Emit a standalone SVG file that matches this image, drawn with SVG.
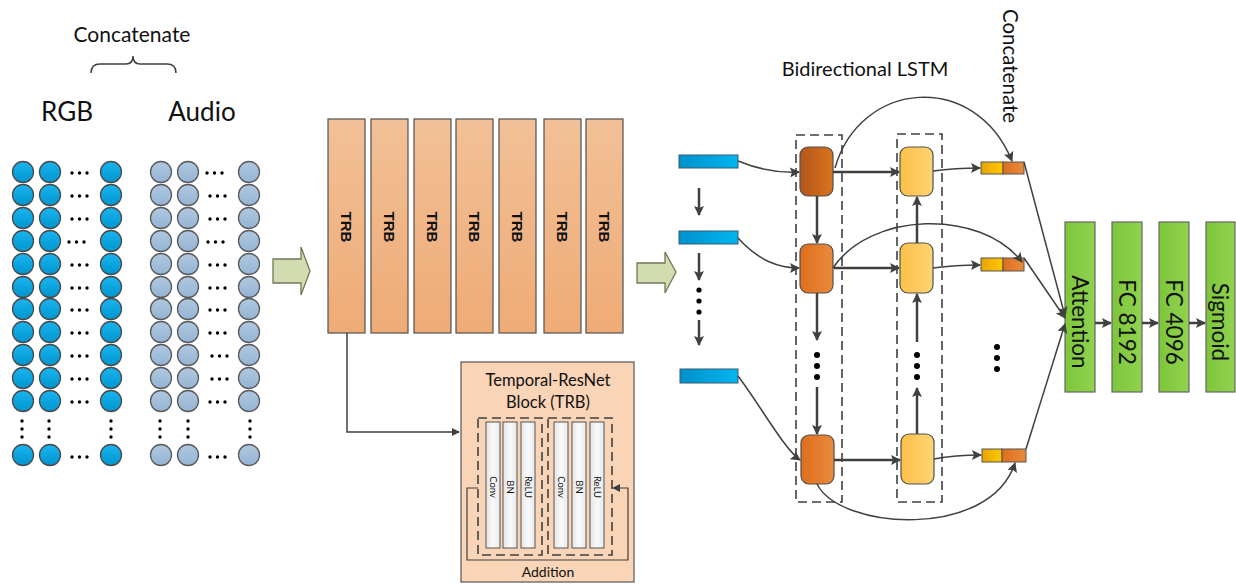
<svg xmlns="http://www.w3.org/2000/svg" width="1236" height="585" viewBox="0 0 1236 585">
<defs>
<linearGradient id="gBlue" x1="0" y1="0" x2="0" y2="1"><stop offset="0" stop-color="#1ab4ee"/><stop offset="1" stop-color="#0096d0"/></linearGradient>
<linearGradient id="gAud" x1="0" y1="0" x2="0" y2="1"><stop offset="0" stop-color="#b0c8e0"/><stop offset="1" stop-color="#94b4d4"/></linearGradient>
<linearGradient id="gTRB" x1="0" y1="0" x2="0" y2="1"><stop offset="0" stop-color="#f2c097"/><stop offset="1" stop-color="#eeab76"/></linearGradient>
<linearGradient id="gBar" x1="0" y1="0" x2="1" y2="0"><stop offset="0" stop-color="#0090cc"/><stop offset="1" stop-color="#00b6f0"/></linearGradient>
<linearGradient id="gF1" x1="0" y1="0" x2="1" y2="0"><stop offset="0" stop-color="#b4561a"/><stop offset="1" stop-color="#d8731f"/></linearGradient>
<linearGradient id="gF2" x1="0" y1="0" x2="1" y2="0"><stop offset="0" stop-color="#df6e1c"/><stop offset="1" stop-color="#ea8a3c"/></linearGradient>
<linearGradient id="gB" x1="0" y1="0" x2="1" y2="0"><stop offset="0" stop-color="#fcc048"/><stop offset="1" stop-color="#fed474"/></linearGradient>
<linearGradient id="gCY" x1="0" y1="0" x2="1" y2="0"><stop offset="0" stop-color="#e6a400"/><stop offset="1" stop-color="#ffc800"/></linearGradient>
<linearGradient id="gCO" x1="0" y1="0" x2="1" y2="0"><stop offset="0" stop-color="#dc6e1e"/><stop offset="1" stop-color="#ea8a3c"/></linearGradient>
<linearGradient id="gG" x1="0" y1="0" x2="1" y2="0"><stop offset="0" stop-color="#7cc63a"/><stop offset="1" stop-color="#92d250"/></linearGradient>
<linearGradient id="gW" x1="0" y1="0" x2="1" y2="0"><stop offset="0" stop-color="#e4e4e4"/><stop offset="0.5" stop-color="#fafafa"/><stop offset="1" stop-color="#e8e8e8"/></linearGradient>
<marker id="ah" viewBox="0 0 10 10" refX="9" refY="5" markerWidth="11" markerHeight="10" markerUnits="userSpaceOnUse" orient="auto"><path d="M0,0 L10,5 L0,10 L2,5 Z" fill="#404040"/></marker>
<marker id="ahs" viewBox="0 0 10 10" refX="9" refY="5" markerWidth="8" markerHeight="8" markerUnits="userSpaceOnUse" orient="auto"><path d="M0,0 L10,5 L0,10 Z" fill="#404040"/></marker>
</defs>
<style>
text{font-family:Lato,"Liberation Sans",sans-serif;fill:#111}
.rgb{fill:url(#gBlue);stroke:#4a4a4a;stroke-width:1.3}
.aud{fill:url(#gAud);stroke:#5a5a5a;stroke-width:1.3}
.dot{fill:#000}
.trb{fill:url(#gTRB);stroke:#505050;stroke-width:1.2}
.trbt{font-family:"Liberation Sans",sans-serif;font-weight:bold;font-size:15px}
.ln{fill:none;stroke:#404040;stroke-width:1.5}
.lnt{fill:none;stroke:#404040;stroke-width:2.5}
.dash{fill:none;stroke:#404040;stroke-width:1.6;stroke-dasharray:9,5}
.bar{fill:url(#gBar);stroke:#3a5a70;stroke-width:1}
.cell{stroke:#505050;stroke-width:1.2}
.green{fill:url(#gG);stroke:#666;stroke-width:1.2}
.garrow{fill:#d3dbb0;stroke:#6f7a58;stroke-width:1.3}
.inner{fill:url(#gW);stroke:#555;stroke-width:1}
.small{font-size:9.5px}
.gt{font-size:22.5px}
</style>

<g id="labels-left">
<text x="132" y="42" font-size="21" text-anchor="middle">Concatenate</text>
<path d="M91,73 Q91,64 100,64 H126 Q133,64 133,56 Q133,64 140,64 H167 Q176,64 176,73" class="ln"/>
<text x="67" y="121" font-size="26" text-anchor="middle">RGB</text>
<text x="202" y="121" font-size="26" text-anchor="middle">Audio</text>
</g>

<g id="rgb-input">
<g id="rgb-rows">
<circle class="rgb" cx="23" cy="172" r="10.5"/><circle class="rgb" cx="50" cy="172" r="10.5"/><circle class="rgb" cx="111" cy="172" r="10.5"/>
<circle class="rgb" cx="23" cy="195" r="10.5"/><circle class="rgb" cx="50" cy="195" r="10.5"/><circle class="rgb" cx="111" cy="195" r="10.5"/>
<circle class="rgb" cx="23" cy="218" r="10.5"/><circle class="rgb" cx="50" cy="218" r="10.5"/><circle class="rgb" cx="111" cy="218" r="10.5"/>
<circle class="rgb" cx="23" cy="241" r="10.5"/><circle class="rgb" cx="50" cy="241" r="10.5"/><circle class="rgb" cx="111" cy="241" r="10.5"/>
<circle class="rgb" cx="23" cy="264" r="10.5"/><circle class="rgb" cx="50" cy="264" r="10.5"/><circle class="rgb" cx="111" cy="264" r="10.5"/>
<circle class="rgb" cx="23" cy="287" r="10.5"/><circle class="rgb" cx="50" cy="287" r="10.5"/><circle class="rgb" cx="111" cy="287" r="10.5"/>
<circle class="rgb" cx="23" cy="309" r="10.5"/><circle class="rgb" cx="50" cy="309" r="10.5"/><circle class="rgb" cx="111" cy="309" r="10.5"/>
<circle class="rgb" cx="23" cy="332" r="10.5"/><circle class="rgb" cx="50" cy="332" r="10.5"/><circle class="rgb" cx="111" cy="332" r="10.5"/>
<circle class="rgb" cx="23" cy="355" r="10.5"/><circle class="rgb" cx="50" cy="355" r="10.5"/><circle class="rgb" cx="111" cy="355" r="10.5"/>
<circle class="rgb" cx="23" cy="378" r="10.5"/><circle class="rgb" cx="50" cy="378" r="10.5"/><circle class="rgb" cx="111" cy="378" r="10.5"/>
<circle class="rgb" cx="23" cy="401" r="10.5"/><circle class="rgb" cx="50" cy="401" r="10.5"/><circle class="rgb" cx="111" cy="401" r="10.5"/>
<circle class="rgb" cx="23" cy="455" r="10.5"/><circle class="rgb" cx="50" cy="455" r="10.5"/><circle class="rgb" cx="111" cy="455" r="10.5"/>
</g>
<g id="rgb-dots">
<circle class="dot" cx="72" cy="173" r="1.7"/><circle class="dot" cx="79.5" cy="173" r="1.7"/><circle class="dot" cx="87" cy="173" r="1.7"/>
<circle class="dot" cx="72" cy="196" r="1.7"/><circle class="dot" cx="79.5" cy="196" r="1.7"/><circle class="dot" cx="87" cy="196" r="1.7"/>
<circle class="dot" cx="72" cy="219" r="1.7"/><circle class="dot" cx="79.5" cy="219" r="1.7"/><circle class="dot" cx="87" cy="219" r="1.7"/>
<circle class="dot" cx="69" cy="242" r="1.7"/><circle class="dot" cx="76.5" cy="242" r="1.7"/><circle class="dot" cx="84" cy="242" r="1.7"/>
<circle class="dot" cx="72" cy="265" r="1.7"/><circle class="dot" cx="79.5" cy="265" r="1.7"/><circle class="dot" cx="87" cy="265" r="1.7"/>
<circle class="dot" cx="72" cy="288" r="1.7"/><circle class="dot" cx="79.5" cy="288" r="1.7"/><circle class="dot" cx="87" cy="288" r="1.7"/>
<circle class="dot" cx="72" cy="310" r="1.7"/><circle class="dot" cx="79.5" cy="310" r="1.7"/><circle class="dot" cx="87" cy="310" r="1.7"/>
<circle class="dot" cx="72" cy="333" r="1.7"/><circle class="dot" cx="79.5" cy="333" r="1.7"/><circle class="dot" cx="87" cy="333" r="1.7"/>
<circle class="dot" cx="72" cy="356" r="1.7"/><circle class="dot" cx="79.5" cy="356" r="1.7"/><circle class="dot" cx="87" cy="356" r="1.7"/>
<circle class="dot" cx="72" cy="379" r="1.7"/><circle class="dot" cx="79.5" cy="379" r="1.7"/><circle class="dot" cx="87" cy="379" r="1.7"/>
<circle class="dot" cx="72" cy="402" r="1.7"/><circle class="dot" cx="79.5" cy="402" r="1.7"/><circle class="dot" cx="87" cy="402" r="1.7"/>
<circle class="dot" cx="72" cy="457" r="1.7"/><circle class="dot" cx="79.5" cy="457" r="1.7"/><circle class="dot" cx="87" cy="457" r="1.7"/>
<circle class="dot" cx="22" cy="421" r="1.7"/><circle class="dot" cx="22" cy="429" r="1.7"/><circle class="dot" cx="22" cy="437" r="1.7"/>
<circle class="dot" cx="49" cy="421" r="1.7"/><circle class="dot" cx="49" cy="429" r="1.7"/><circle class="dot" cx="49" cy="437" r="1.7"/>
<circle class="dot" cx="111" cy="421" r="1.7"/><circle class="dot" cx="111" cy="429" r="1.7"/><circle class="dot" cx="111" cy="437" r="1.7"/>
</g>
</g>

<g id="audio-input">
<g id="audio-rows">
<circle class="aud" cx="161" cy="172" r="10.5"/><circle class="aud" cx="188" cy="172" r="10.5"/><circle class="aud" cx="249" cy="172" r="10.5"/>
<circle class="aud" cx="161" cy="195" r="10.5"/><circle class="aud" cx="188" cy="195" r="10.5"/><circle class="aud" cx="249" cy="195" r="10.5"/>
<circle class="aud" cx="161" cy="218" r="10.5"/><circle class="aud" cx="188" cy="218" r="10.5"/><circle class="aud" cx="249" cy="218" r="10.5"/>
<circle class="aud" cx="161" cy="241" r="10.5"/><circle class="aud" cx="188" cy="241" r="10.5"/><circle class="aud" cx="249" cy="241" r="10.5"/>
<circle class="aud" cx="161" cy="264" r="10.5"/><circle class="aud" cx="188" cy="264" r="10.5"/><circle class="aud" cx="249" cy="264" r="10.5"/>
<circle class="aud" cx="161" cy="287" r="10.5"/><circle class="aud" cx="188" cy="287" r="10.5"/><circle class="aud" cx="249" cy="287" r="10.5"/>
<circle class="aud" cx="161" cy="309" r="10.5"/><circle class="aud" cx="188" cy="309" r="10.5"/><circle class="aud" cx="249" cy="309" r="10.5"/>
<circle class="aud" cx="161" cy="332" r="10.5"/><circle class="aud" cx="188" cy="332" r="10.5"/><circle class="aud" cx="249" cy="332" r="10.5"/>
<circle class="aud" cx="161" cy="355" r="10.5"/><circle class="aud" cx="188" cy="355" r="10.5"/><circle class="aud" cx="249" cy="355" r="10.5"/>
<circle class="aud" cx="161" cy="378" r="10.5"/><circle class="aud" cx="188" cy="378" r="10.5"/><circle class="aud" cx="249" cy="378" r="10.5"/>
<circle class="aud" cx="161" cy="401" r="10.5"/><circle class="aud" cx="188" cy="401" r="10.5"/><circle class="aud" cx="249" cy="401" r="10.5"/>
<circle class="aud" cx="161" cy="455" r="10.5"/><circle class="aud" cx="188" cy="455" r="10.5"/><circle class="aud" cx="249" cy="455" r="10.5"/>
</g>
<g id="audio-dots">
<circle class="dot" cx="207" cy="173" r="1.7"/><circle class="dot" cx="214.5" cy="173" r="1.7"/><circle class="dot" cx="222" cy="173" r="1.7"/>
<circle class="dot" cx="210" cy="196" r="1.7"/><circle class="dot" cx="217.5" cy="196" r="1.7"/><circle class="dot" cx="225" cy="196" r="1.7"/>
<circle class="dot" cx="210" cy="219" r="1.7"/><circle class="dot" cx="217.5" cy="219" r="1.7"/><circle class="dot" cx="225" cy="219" r="1.7"/>
<circle class="dot" cx="208" cy="242" r="1.7"/><circle class="dot" cx="215.5" cy="242" r="1.7"/><circle class="dot" cx="223" cy="242" r="1.7"/>
<circle class="dot" cx="210" cy="265" r="1.7"/><circle class="dot" cx="217.5" cy="265" r="1.7"/><circle class="dot" cx="225" cy="265" r="1.7"/>
<circle class="dot" cx="210" cy="288" r="1.7"/><circle class="dot" cx="217.5" cy="288" r="1.7"/><circle class="dot" cx="225" cy="288" r="1.7"/>
<circle class="dot" cx="210" cy="310" r="1.7"/><circle class="dot" cx="217.5" cy="310" r="1.7"/><circle class="dot" cx="225" cy="310" r="1.7"/>
<circle class="dot" cx="210" cy="333" r="1.7"/><circle class="dot" cx="217.5" cy="333" r="1.7"/><circle class="dot" cx="225" cy="333" r="1.7"/>
<circle class="dot" cx="212" cy="356" r="1.7"/><circle class="dot" cx="219.5" cy="356" r="1.7"/><circle class="dot" cx="227" cy="356" r="1.7"/>
<circle class="dot" cx="212" cy="379" r="1.7"/><circle class="dot" cx="219.5" cy="379" r="1.7"/><circle class="dot" cx="227" cy="379" r="1.7"/>
<circle class="dot" cx="210" cy="402" r="1.7"/><circle class="dot" cx="217.5" cy="402" r="1.7"/><circle class="dot" cx="225" cy="402" r="1.7"/>
<circle class="dot" cx="210" cy="457" r="1.7"/><circle class="dot" cx="217.5" cy="457" r="1.7"/><circle class="dot" cx="225" cy="457" r="1.7"/>
<circle class="dot" cx="160" cy="421" r="1.7"/><circle class="dot" cx="160" cy="429" r="1.7"/><circle class="dot" cx="160" cy="437" r="1.7"/>
<circle class="dot" cx="188" cy="421" r="1.7"/><circle class="dot" cx="188" cy="429" r="1.7"/><circle class="dot" cx="188" cy="437" r="1.7"/>
<circle class="dot" cx="250" cy="421" r="1.7"/><circle class="dot" cx="250" cy="429" r="1.7"/><circle class="dot" cx="250" cy="437" r="1.7"/>
</g>
</g>

<g id="arrow-in">
<path class="garrow" d="M273,259 H301 V247 L310,271 L301,295 V283 H273 Z"/>
</g>

<g id="trb-stack">
<rect class="trb" x="328" y="119" width="37" height="214"/>
<rect class="trb" x="371" y="119" width="37" height="214"/>
<rect class="trb" x="414" y="119" width="37" height="214"/>
<rect class="trb" x="456" y="119" width="37" height="214"/>
<rect class="trb" x="499" y="119" width="37" height="214"/>
<rect class="trb" x="544" y="119" width="37" height="214"/>
<rect class="trb" x="586" y="119" width="37" height="214"/>
<text class="trbt" transform="rotate(90 346.5 227)" x="346.5" y="227" text-anchor="middle" dominant-baseline="central">TRB</text>
<text class="trbt" transform="rotate(90 389.5 227)" x="389.5" y="227" text-anchor="middle" dominant-baseline="central">TRB</text>
<text class="trbt" transform="rotate(90 432.5 227)" x="432.5" y="227" text-anchor="middle" dominant-baseline="central">TRB</text>
<text class="trbt" transform="rotate(90 474.5 227)" x="474.5" y="227" text-anchor="middle" dominant-baseline="central">TRB</text>
<text class="trbt" transform="rotate(90 517.5 227)" x="517.5" y="227" text-anchor="middle" dominant-baseline="central">TRB</text>
<text class="trbt" transform="rotate(90 562.5 227)" x="562.5" y="227" text-anchor="middle" dominant-baseline="central">TRB</text>
<text class="trbt" transform="rotate(90 604.5 227)" x="604.5" y="227" text-anchor="middle" dominant-baseline="central">TRB</text>
</g>

<g id="trb-detail">
<rect x="461" y="362" width="173" height="220" fill="#f9d4b6" stroke="#555" stroke-width="1.2"/>
<text x="548" y="386" font-size="16.5" text-anchor="middle">Temporal-ResNet</text>
<text x="548" y="408" font-size="16.5" text-anchor="middle">Block (TRB)</text>
<rect class="dash" x="478" y="418" width="64" height="137" stroke-width="1.2" stroke-dasharray="6,4"/>
<rect class="dash" x="548" y="418" width="64" height="137" stroke-width="1.2" stroke-dasharray="6,4"/>
<rect class="inner" x="486" y="422" width="14" height="126"/>
<rect class="inner" x="503" y="422" width="14" height="126"/>
<rect class="inner" x="521" y="422" width="14" height="126"/>
<rect class="inner" x="554" y="422" width="14" height="126"/>
<rect class="inner" x="572" y="422" width="14" height="126"/>
<rect class="inner" x="590" y="422" width="14" height="126"/>
<text class="small" transform="rotate(90 493 487)" x="493" y="487" text-anchor="middle" dominant-baseline="central">Conv</text>
<text class="small" transform="rotate(90 510 487)" x="510" y="487" text-anchor="middle" dominant-baseline="central">BN</text>
<text class="small" transform="rotate(90 528 487)" x="528" y="487" text-anchor="middle" dominant-baseline="central">ReLU</text>
<text class="small" transform="rotate(90 561 487)" x="561" y="487" text-anchor="middle" dominant-baseline="central">Conv</text>
<text class="small" transform="rotate(90 579 487)" x="579" y="487" text-anchor="middle" dominant-baseline="central">BN</text>
<text class="small" transform="rotate(90 597 487)" x="597" y="487" text-anchor="middle" dominant-baseline="central">ReLU</text>
<path d="M478,488 H467 V560 H628 V488 H613" fill="none" stroke="#404040" stroke-width="1.2" marker-end="url(#ahs)"/>
<text x="548" y="577" font-size="14" text-anchor="middle">Addition</text>
</g>

<g id="arrow-mid">
<path class="garrow" d="M637,263 H665 V252 L676,272 L665,293 V283 H637 Z"/>
</g>

<g id="input-bars">
<rect class="bar" x="679" y="155" width="59" height="13"/>
<rect class="bar" x="679" y="231" width="59" height="13"/>
<rect class="bar" x="680" y="369" width="58" height="14"/>
<circle class="dot" cx="699" cy="290" r="2.6"/><circle class="dot" cx="699" cy="301" r="2.6"/><circle class="dot" cx="699" cy="312" r="2.6"/>
</g>

<g id="forward-lstm">
<rect class="dash" x="796" y="135" width="46" height="367"/>
<rect class="cell" x="800" y="147" width="33" height="49" rx="8" fill="url(#gF1)"/>
<rect class="cell" x="800" y="244" width="33" height="49" rx="8" fill="url(#gF2)"/>
<rect class="cell" x="801" y="435" width="33" height="49" rx="8" fill="url(#gF2)"/>
<circle class="dot" cx="817" cy="355" r="3"/><circle class="dot" cx="817" cy="366" r="3"/><circle class="dot" cx="817" cy="377" r="3"/>
</g>

<g id="backward-lstm">
<rect class="dash" x="897" y="134" width="45" height="368"/>
<rect class="cell" x="900" y="147" width="33" height="49" rx="8" fill="url(#gB)"/>
<rect class="cell" x="900" y="243" width="33" height="50" rx="8" fill="url(#gB)"/>
<rect class="cell" x="901" y="434" width="33" height="50" rx="8" fill="url(#gB)"/>
<circle class="dot" cx="917" cy="355" r="3"/><circle class="dot" cx="917" cy="366" r="3"/><circle class="dot" cx="917" cy="377" r="3"/>
</g>

<g id="concat-outputs">
<rect x="981" y="162" width="22" height="12" fill="url(#gCY)" stroke="#555" stroke-width="1"/>
<rect x="1003" y="162" width="21" height="12" fill="url(#gCO)" stroke="#555" stroke-width="1"/>
<rect x="981" y="258" width="22" height="13" fill="url(#gCY)" stroke="#555" stroke-width="1"/>
<rect x="1003" y="258" width="21" height="13" fill="url(#gCO)" stroke="#555" stroke-width="1"/>
<rect x="982" y="449" width="20" height="13" fill="url(#gCY)" stroke="#555" stroke-width="1"/>
<rect x="1002" y="449" width="24" height="13" fill="url(#gCO)" stroke="#555" stroke-width="1"/>
<circle class="dot" cx="997" cy="347" r="3"/><circle class="dot" cx="997" cy="358" r="3"/><circle class="dot" cx="997" cy="369" r="3"/>
</g>

<g id="labels-right">
<text x="865" y="76" font-size="20" text-anchor="middle">Bidirectional LSTM</text>
<text transform="rotate(90 1011 66)" x="1011" y="66" font-size="20.5" text-anchor="middle" dominant-baseline="central">Concatenate</text>
</g>

<g id="head">
<rect class="green" x="1065" y="222" width="30" height="170"/>
<rect class="green" x="1112" y="222" width="30" height="170"/>
<rect class="green" x="1159" y="222" width="30" height="170"/>
<rect class="green" x="1206" y="222" width="29" height="170"/>
<text class="gt" transform="rotate(90 1080 322)" x="1080" y="322" text-anchor="middle" dominant-baseline="central">Attention</text>
<text class="gt" transform="rotate(90 1127 322)" x="1127" y="322" text-anchor="middle" dominant-baseline="central">FC 8192</text>
<text class="gt" transform="rotate(90 1174 322)" x="1174" y="322" text-anchor="middle" dominant-baseline="central">FC 4096</text>
<text class="gt" transform="rotate(90 1220.5 322)" x="1220.5" y="322" text-anchor="middle" dominant-baseline="central">Sigmoid</text>
</g>

<g id="connectors">
<path class="ln" d="M347,333 V432 H459" marker-end="url(#ahs)" stroke-width="1.2"/>
<path class="lnt" d="M699,188 V215" marker-end="url(#ah)"/>
<path class="lnt" d="M699,253 V280" marker-end="url(#ah)"/>
<path class="lnt" d="M699,320 V345" marker-end="url(#ah)"/>
<path class="ln" d="M738,161 C760,170 780,173 799,172" marker-end="url(#ah)"/>
<path class="ln" d="M738,238 C760,262 780,268 799,268" marker-end="url(#ah)"/>
<path class="ln" d="M738,376 C760,405 785,450 800,460" marker-end="url(#ah)"/>
<path class="lnt" d="M817,196 V243" marker-end="url(#ah)"/>
<path class="lnt" d="M817,293 V340" marker-end="url(#ah)"/>
<path class="lnt" d="M817,387 V434" marker-end="url(#ah)"/>
<path class="lnt" d="M917,434 V388" marker-end="url(#ah)"/>
<path class="lnt" d="M917,342 V294" marker-end="url(#ah)"/>
<path class="lnt" d="M917,243 V197" marker-end="url(#ah)"/>
<path class="lnt" d="M833,172 H899" marker-end="url(#ah)"/>
<path class="lnt" d="M834,268 H899" marker-end="url(#ah)"/>
<path class="lnt" d="M834,460 H900" marker-end="url(#ah)"/>
<path class="ln" d="M933,171 Q955,168 980,168" marker-end="url(#ah)"/>
<path class="ln" d="M933,268 Q955,265 980,265" marker-end="url(#ah)"/>
<path class="ln" d="M934,459 Q955,455 981,455" marker-end="url(#ah)"/>
<path class="ln" d="M835,168 C860,80 975,70 1012,161" marker-end="url(#ah)"/>
<path class="ln" d="M833,268 C870,212 980,208 1022,262" marker-end="url(#ah)"/>
<path class="ln" d="M817,484 C840,530 990,540 1015,463" marker-end="url(#ah)"/>
<path class="ln" d="M1024,162 L1065,316" stroke-width="2" marker-end="url(#ah)"/>
<path class="ln" d="M1024,258 L1065,318" stroke-width="2" marker-end="url(#ah)"/>
<path class="ln" d="M1026,449 L1065,324" stroke-width="2" marker-end="url(#ah)"/>
<path class="lnt" d="M1095,323 H1111" marker-end="url(#ah)"/>
<path class="lnt" d="M1142,323 H1158" marker-end="url(#ah)"/>
<path class="lnt" d="M1189,323 H1205" marker-end="url(#ah)"/>
</g>
</svg>
